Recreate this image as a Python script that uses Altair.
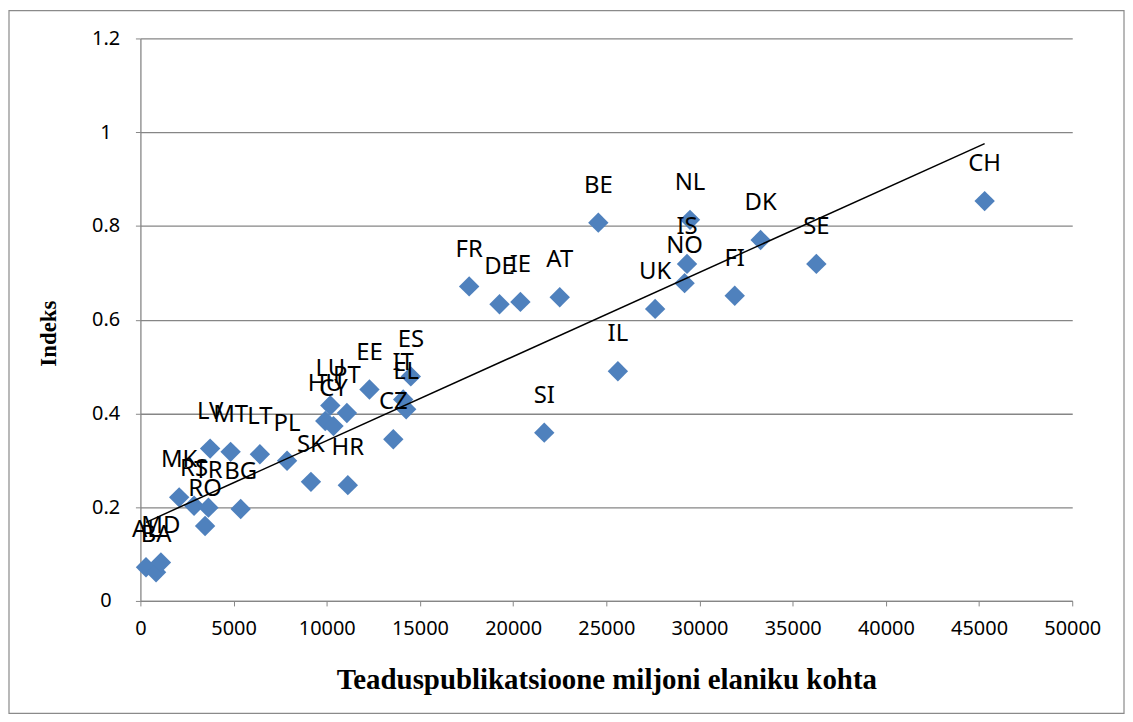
import altair as alt
import pandas as pd

countries = ["AL", "BA", "MD", "MK", "RS", "TR", "RO", "BG", "LV", "MT", "LT", "PL", "SK", "HR",
             "HU", "CY", "LU", "PT", "EE", "CZ", "EL", "IT", "ES", "FR", "DE", "IE", "AT", "SI",
             "BE", "IL", "UK", "NO", "IS", "NL", "FI", "DK", "SE", "CH"]
publications = [300, 840, 1100, 2080, 2880, 3650, 3470, 5380, 3740, 4840, 6410, 7870, 9150, 11130,
                9920, 10360, 10190, 11080, 12290, 13570, 14260, 14100, 14510, 17640, 19270, 20390, 22500, 21670,
                24570, 25620, 27620, 29200, 29330, 29490, 31890, 33280, 36270, 45300]
index_values = [0.072, 0.061, 0.082, 0.221, 0.203, 0.199, 0.160, 0.196, 0.325, 0.318, 0.313, 0.299, 0.254, 0.247,
                0.384, 0.373, 0.417, 0.401, 0.451, 0.345, 0.409, 0.430, 0.479, 0.671, 0.633, 0.638, 0.648, 0.359,
                0.807, 0.490, 0.623, 0.678, 0.719, 0.813, 0.651, 0.770, 0.719, 0.853]

x_ticks = list(range(0, 50001, 5000))
y_ticks = [0, 0.2, 0.4, 0.6, 0.8, 1.0, 1.2]

df = pd.DataFrame({"country": countries, "pubs": publications, "idx": index_values})

GREY = "#868686"
SANS = "Noto Sans"
SERIF = "Liberation Serif"

x_enc = alt.X("pubs:Q", scale=alt.Scale(domain=[0, 50000], nice=False),
              axis=alt.Axis(values=x_ticks, format="d", grid=False, domainColor=GREY, domainWidth=1.3,
                            tickColor=GREY, tickSize=5, labelFont=SANS, labelFontSize=20, labelColor="black",
                            labelPadding=13, labelFlush=False, labelOverlap=False,
                            title="Teaduspublikatsioone miljoni elaniku kohta", titleFont=SERIF,
                            titleFontSize=29, titleFontWeight="bold", titleColor="black",
                            titleY=88, titleBaseline="alphabetic"))
y_enc = alt.Y("idx:Q", scale=alt.Scale(domain=[0, 1.2], nice=False),
              axis=alt.Axis(values=y_ticks, format=".1~f", grid=True, gridColor=GREY, gridWidth=1.3,
                            domainColor=GREY, domainWidth=1.3, tickColor=GREY, tickSize=5,
                            labelFont=SANS, labelFontSize=20, labelColor="black", labelAlign="center",
                            labelPadding=30, labelFlush=False, labelOverlap=False,
                            title="Indeks", titleFont=SERIF, titleFontSize=23, titleFontWeight="bold",
                            titleColor="black", titleX=-85, titleY=296, titleAngle=-90,
                            titleBaseline="alphabetic", titleAlign="center"))

base = alt.Chart(df)

points = base.mark_point(shape="diamond", filled=True, size=420, color="#4F81BD", opacity=1).encode(
    x=x_enc, y=y_enc)

labels = base.mark_text(font=SANS, fontSize=24, color="black", dy=-37, baseline="middle", align="center").encode(
    x="pubs:Q", y="idx:Q", text="country:N")

trend = base.transform_regression("pubs", "idx", method="linear").mark_line(
    color="black", strokeWidth=1.5).encode(x="pubs:Q", y="idx:Q")

frame = alt.Chart(alt.Data(values=[{"a": 1}])).mark_rect(
    fill=None, stroke="#8a8a8a", strokeWidth=1.2).encode(
    x=alt.value(-132), x2=alt.value(988), y=alt.value(-28), y2=alt.value(678))

chart = alt.layer(points, trend, labels, frame).properties(
    width=936, height=565, autosize="none",
    padding={"left": 133, "top": 29, "right": 53, "bottom": 115},
).configure_view(stroke=None)

chart.save("out.html", embed_options={"renderer": "svg", "actions": False})
